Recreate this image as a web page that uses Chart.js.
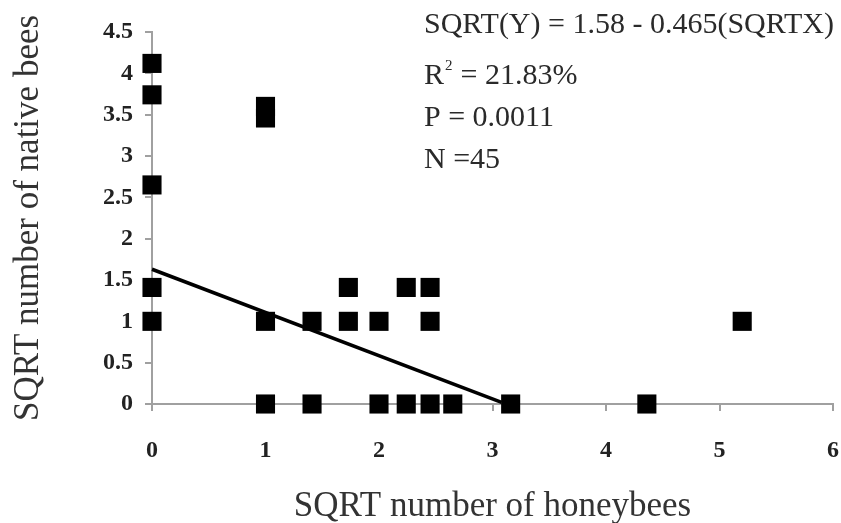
<!DOCTYPE html>
<html>
<head>
<meta charset="utf-8">
<script src="https://cdn.jsdelivr.net/npm/chart.js@4.4.0/dist/chart.umd.min.js"></script>
<style>
  html, body { margin: 0; padding: 0; background: #fff; }
  canvas { display: block; }
</style>
</head>
<body>
<canvas id="beeChart" width="841" height="523"></canvas>
<script>
// values (square-root transformed counts)
const honeyX = [0, 0, 0, 0, 0, 1, 1, 1, 1, 1.41, 1.41, 1.73, 1.73, 2, 2, 2.24, 2.24, 2.45, 2.45, 2.45, 2.65, 3.16, 4.36, 5.2];
const nativeY = [4.12, 3.74, 2.65, 1.41, 1, 3.6, 3.46, 1, 0, 1, 0, 1.41, 1, 1, 0, 1.41, 0, 1.41, 1, 0, 0, 0, 0, 1];

// fitted line as drawn (start and end)
const fitX = [0, 3.08];
const fitY = [1.63, 0.02];

const xTicks = [0, 1, 2, 3, 4, 5, 6];
const yTicks = [0, 0.5, 1, 1.5, 2, 2.5, 3, 3.5, 4, 4.5];

const statLines = ['SQRT(Y) = 1.58 - 0.465(SQRTX)', 'R2 = 21.83%', 'P = 0.0011', 'N =45'];

const serif = '"Liberation Serif", "Times New Roman", serif';
const axisGrey = '#a0a0a0';

// regression stats in the top right corner
const statsPlugin = {
    id: 'stats',
    afterDraw(chart) {
        const ctx = chart.ctx;
        const left = 424;
        const baselines = [33, 84, 126, 168];
        ctx.save();
        ctx.fillStyle = '#2a2a2a';
        ctx.textBaseline = 'alphabetic';
        ctx.textAlign = 'left';
        statLines.forEach((line, i) => {
            ctx.font = '30px ' + serif;
            if (i === 1) {
                // R with a superscript 2
                ctx.fillText('R', left, baselines[i]);
                const w = ctx.measureText('R').width;
                ctx.font = '15px ' + serif;
                ctx.fillText('2', left + w + 1, baselines[i] - 14);
                ctx.font = '30px ' + serif;
                ctx.fillText(line.slice(2), left + w + 9, baselines[i]);
            } else {
                ctx.fillText(line, left, baselines[i]);
            }
        });
        ctx.restore();
    }
};

const ctx = document.getElementById('beeChart').getContext('2d');
new Chart(ctx, {
    type: 'scatter',
    data: {
        datasets: [{
            type: 'line',
            label: 'fit',
            data: fitX.map((x, i) => ({ x: x, y: fitY[i] })),
            borderColor: '#000',
            borderWidth: 3.5,
            pointRadius: 0,
            fill: false,
            clip: false,
            order: 0
        }, {
            label: 'bees',
            data: honeyX.map((x, i) => ({ x: x, y: nativeY[i] })),
            pointStyle: 'rect',
            pointRadius: 13.5,
            pointHoverRadius: 13.5,
            backgroundColor: '#000',
            borderColor: '#000',
            borderWidth: 0,
            clip: false,
            order: 1
        }]
    },
    options: {
        responsive: false,
        animation: false,
        devicePixelRatio: 1,
        layout: { autoPadding: false, padding: { top: 32, right: 8, left: 0, bottom: 0 } },
        plugins: {
            legend: { display: false },
            tooltip: { enabled: false }
        },
        scales: {
            x: {
                type: 'linear',
                min: 0,
                max: 6,
                afterBuildTicks: (scale) => { scale.ticks = xTicks.map(v => ({ value: v })); },
                afterFit: (scale) => {
                    scale.height = 119;
                    scale.paddingLeft = 0;
                    scale.paddingRight = 0;
                },
                border: { color: axisGrey, width: 2 },
                grid: { drawOnChartArea: false, drawTicks: true, tickLength: 7, color: axisGrey, lineWidth: 2 },
                ticks: {
                    padding: 25,
                    color: '#222',
                    font: { family: serif, size: 24, weight: 'bold' },
                    callback: (v) => String(v)
                },
                title: {
                    display: true,
                    text: 'SQRT number of honeybees',
                    color: '#333',
                    font: { family: serif, size: 35, lineHeight: 0.9 },
                    padding: { top: 0, bottom: 0 }
                }
            },
            y: {
                type: 'linear',
                min: 0,
                max: 4.5,
                afterBuildTicks: (scale) => { scale.ticks = yTicks.map(v => ({ value: v })); },
                afterFit: (scale) => {
                    scale.width = 152;
                    scale.paddingTop = 0;
                    scale.paddingBottom = 0;
                },
                border: { color: axisGrey, width: 2 },
                grid: { drawOnChartArea: false, drawTicks: true, tickLength: 7, color: axisGrey, lineWidth: 2 },
                ticks: {
                    padding: 12,
                    color: '#222',
                    font: { family: serif, size: 24, weight: 'bold' },
                    callback: (v) => String(v)
                },
                title: {
                    display: true,
                    text: 'SQRT number of native bees',
                    color: '#333',
                    font: { family: serif, size: 35 },
                    padding: { top: 8, bottom: 0 }
                }
            }
        }
    },
    plugins: [statsPlugin]
});
</script>
</body>
</html>
